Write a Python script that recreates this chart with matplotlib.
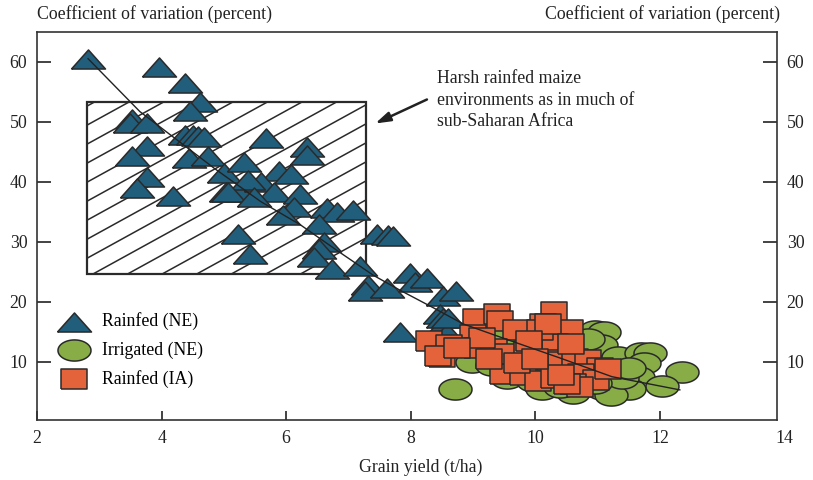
import numpy as np
import matplotlib
matplotlib.use("Agg")
import matplotlib.pyplot as plt
import matplotlib.transforms as mtransforms
from matplotlib.patches import Rectangle

plt.rcParams['font.family'] = ['Liberation Serif', 'DejaVu Serif']
plt.rcParams['font.size'] = 12.8

# Rainfed (NE): grain yield (t/ha), coefficient of variation (%)
tri_x = [2.82, 3.96, 4.37, 4.62, 4.46, 3.53, 3.49, 3.76, 4.37, 4.50, 4.59, 4.68,
         3.76, 3.52, 4.44, 4.75, 3.77, 3.61, 4.19, 5.00, 5.04, 5.25, 5.68, 6.33,
         6.33, 5.32, 5.88, 6.07, 5.59, 5.39, 5.07, 5.80, 5.48, 6.23, 6.12, 5.95,
         6.65, 6.81, 7.07, 6.52, 5.22, 5.42, 6.60, 6.52, 6.44, 6.74, 7.19, 7.46,
         7.64, 7.72, 7.32, 7.27, 7.62, 7.99, 8.07, 8.26, 8.52, 8.73, 8.47, 8.52,
         7.83, 8.47, 8.58, 8.60]
tri_y = [60.5, 59.1, 56.4, 53.2, 51.7, 50.5, 49.8, 49.8, 47.8, 47.7, 47.6, 47.5,
         46.0, 44.3, 44.0, 44.3, 40.8, 38.9, 37.6, 41.5, 38.3, 38.2, 47.3, 45.7,
         44.5, 43.3, 41.7, 41.3, 39.9, 40.2, 38.2, 38.2, 37.5, 38.0, 35.8, 34.4,
         35.6, 35.0, 35.3, 32.9, 31.3, 27.9, 30.0, 28.7, 27.4, 25.5, 25.9, 31.3,
         31.1, 30.9, 22.8, 21.7, 22.2, 24.8, 23.2, 24.0, 21.0, 21.7, 18.0, 17.3,
         15.0, 15.5, 14.8, 17.2]

# Irrigated (NE)
irr_x = [8.71, 10.96, 11.10, 11.06, 11.32, 11.70, 11.84, 11.75, 12.35, 11.65,
         12.04, 11.50, 11.07, 10.60, 11.21, 11.39, 11.07, 10.96, 8.98, 9.30,
         9.54, 9.96, 9.56, 10.10, 10.45, 9.80, 10.25, 10.70, 10.85, 10.10,
         9.70, 11.50, 10.40]
irr_y = [5.4, 15.1, 15.0, 12.7, 10.8, 11.4, 11.5, 9.8, 8.2, 7.5,
         5.9, 5.5, 5.5, 4.7, 4.5, 7.3, 8.7, 6.5, 10.0, 9.4,
         7.2, 6.7, 14.5, 13.0, 11.5, 9.0, 8.8, 12.0, 13.8, 5.5,
         12.5, 9.0, 5.8]

# Rainfed (IA)
ia_x = [9.04, 9.38, 10.30, 9.43, 9.69, 10.13, 10.18, 10.55, 9.00, 8.29,
        8.61, 9.06, 9.33, 8.50, 8.44, 10.31, 10.24, 10.42, 10.63, 10.85,
        11.04, 9.48, 9.80, 10.73, 10.97, 10.04, 10.30, 10.60, 9.54, 9.86,
        9.70, 10.08, 10.20, 10.58, 10.72, 10.51, 11.17, 10.42, 9.15, 9.90,
        10.00, 8.75, 9.25]
ia_y = [17.1, 17.9, 18.3, 16.7, 15.3, 16.2, 15.1, 15.3, 14.4, 13.4,
        12.8, 12.3, 12.1, 10.8, 11.0, 12.9, 10.2, 10.0, 10.4, 10.2,
        9.0, 8.0, 7.7, 8.0, 7.0, 6.8, 7.2, 6.3, 11.2, 11.7,
        9.7, 15.3, 16.3, 13.0, 5.8, 6.2, 8.8, 7.7, 14.0, 13.5,
        10.5, 12.2, 10.5]

# trend line
trend_x = [2.82, 3.65, 4.42, 4.85, 5.59, 6.23, 6.85, 7.40, 7.83, 8.36, 8.84,
           9.60, 10.40, 11.23, 12.32]
trend_y = [60.5, 51.7, 45.6, 42.2, 36.7, 32.8, 28.3, 24.4, 21.9, 19.0, 16.3,
           13.5, 10.6, 7.5, 5.3]

# hatched box: harsh rainfed environments
box_x = [2.80, 7.28]
box_y = [24.6, 53.3]

labels = ['Rainfed (NE)', 'Irrigated (NE)', 'Rainfed (IA)']
colors = ['#215e7c', '#88ad47', '#e5633b']
edge = '#2a2a2a'

# marker shapes (wide triangle, ellipse, flat rectangle)
tri_marker = [(-1, -0.56), (1, -0.56), (0, 0.56), (-1, -0.56)]
t = np.linspace(0, 2 * np.pi, 60)
ell_marker = list(zip(np.cos(t), 0.64 * np.sin(t)))
sq_marker = [(-1, -0.78), (1, -0.78), (1, 0.78), (-1, 0.78), (-1, -0.78)]

fig = plt.figure(figsize=(8.13, 4.8), dpi=100)
ax = fig.add_axes([37 / 813, 60 / 480, 740 / 813, 388 / 480])
ax.set_xlim(2, 13.88)
ax.set_ylim(0.28, 64.95)

# box with slanted hatch lines
rect = Rectangle((box_x[0], box_y[0]), box_x[1] - box_x[0], box_y[1] - box_y[0],
                 facecolor='white', edgecolor='#2a2a2a', lw=1.6, zorder=2)
ax.add_patch(rect)
slope = 5.71
step = 3.17
hx = np.array(box_x)
for k in range(-12, 12):
    y0 = 43.07 + k * step
    ln, = ax.plot(hx, y0 + slope * (hx - box_x[0]), color='#2a2a2a', lw=1.1, zorder=2.1)
    ln.set_clip_path(rect)

ax.scatter(irr_x, irr_y, s=566, marker=ell_marker, facecolor=colors[1],
           edgecolor=edge, linewidth=1.1, zorder=3, label=labels[1])
ax.scatter(tri_x, tri_y, s=600, marker=tri_marker, facecolor=colors[0],
           edgecolor=edge, linewidth=1.1, zorder=4, label=labels[0])
ax.scatter(ia_x, ia_y, s=339, marker=sq_marker, facecolor=colors[2],
           edgecolor=edge, linewidth=1.1, zorder=5, label=labels[2])
ax.plot(trend_x, trend_y, color='#222222', lw=1.0, zorder=6)

h, l = ax.get_legend_handles_labels()
order = [1, 0, 2]
ax.legend([h[i] for i in order], [l[i] for i in order], loc='upper left',
          bbox_to_anchor=(0.015, 0.30), frameon=False, scatterpoints=1,
          borderpad=0, handletextpad=0.65, handlelength=1.9, labelspacing=0.62)

ax.annotate('', xy=(7.43, 49.7), xytext=(8.26, 53.7),
            arrowprops=dict(arrowstyle='-|>,head_width=0.22,head_length=0.7',
                            color='#222222', lw=1.8, shrinkA=0, shrinkB=0))
ax.text(8.42, 53.6, 'Harsh rainfed maize\nenvironments as in much of\nsub-Saharan Africa',
        ha='left', va='center', linespacing=1.33, color='#222222')

for s in ax.spines.values():
    s.set_color('#333333')
    s.set_linewidth(1.2)

ax.set_xticks([2, 4, 6, 8, 10, 12])
ax.set_yticks([10, 20, 30, 40, 50, 60])
ax.tick_params(axis='x', direction='in', length=6.5, width=1.2, pad=7, colors='#222222')
ax.tick_params(axis='y', direction='in', length=10, width=1.2, pad=7,
               right=True, labelright=True, colors='#222222')
off = mtransforms.offset_copy(ax.get_xaxis_transform(), fig=fig, y=-7, units='points')
ax.text(14, 0, '14', transform=off, ha='center', va='top', color='#222222')

fig.text(37 / 813, 1 - 14 / 480, 'Coefficient of variation (percent)',
         ha='left', va='center', color='#222222')
fig.text(780 / 813, 1 - 14 / 480, 'Coefficient of variation (percent)',
         ha='right', va='center', color='#222222')
fig.text(421 / 813, 1 - 467 / 480, 'Grain yield (t/ha)', ha='center', va='center',
         color='#222222')

fig.savefig('out.png', dpi=100)
